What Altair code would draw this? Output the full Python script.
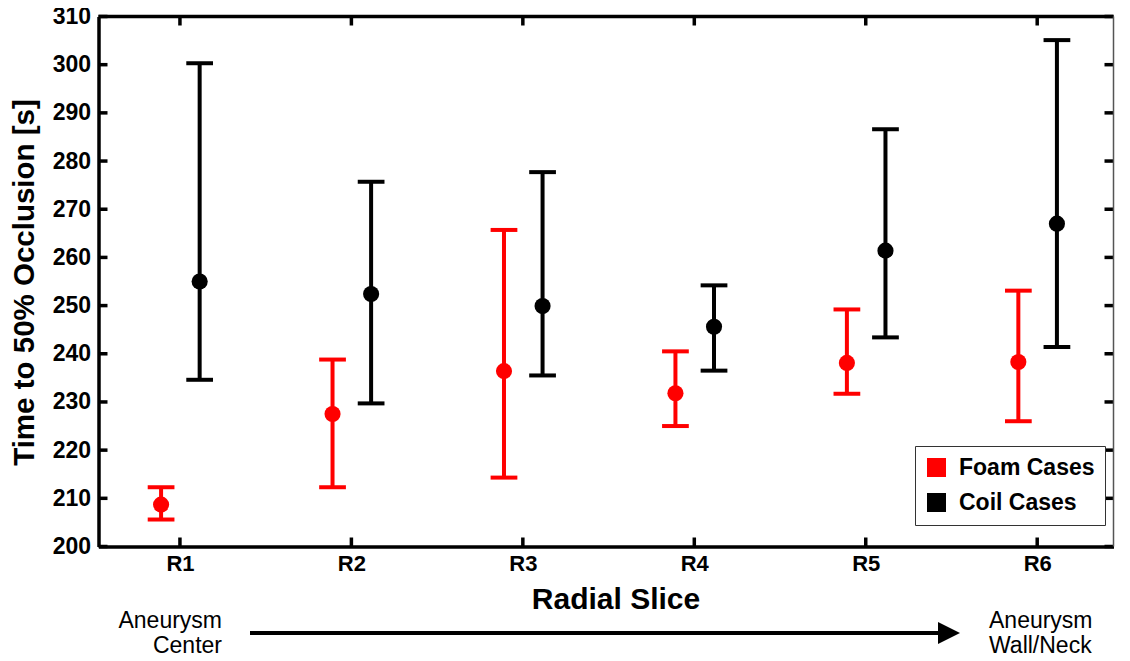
import altair as alt
import pandas as pd

# ---- data ----
slices = ["R1", "R2", "R3", "R4", "R5", "R6"]
positions = [1, 2, 3, 4, 5, 6]
groups = ["Foam Cases", "Coil Cases"]

foam_mean = [208.7, 227.5, 236.4, 231.8, 238.1, 238.3]
foam_low = [205.6, 212.3, 214.3, 225.0, 231.7, 226.0]
foam_high = [212.3, 238.8, 265.7, 240.5, 249.2, 253.1]

coil_mean = [255.0, 252.4, 249.9, 245.6, 261.4, 267.0]
coil_low = [234.6, 229.7, 235.5, 236.5, 243.4, 241.4]
coil_high = [300.3, 275.7, 277.7, 254.2, 286.6, 305.1]

y_ticks = [200, 210, 220, 230, 240, 250, 260, 270, 280, 290, 300, 310]
left_note = ["Aneurysm", "Center"]
right_note = ["Aneurysm", "Wall/Neck"]

# ---- tables ----
rows = []
for i, s in enumerate(slices):
    rows.append(dict(slice=s, pos=positions[i], group=groups[0],
                     mean=foam_mean[i], lo=foam_low[i], hi=foam_high[i]))
    rows.append(dict(slice=s, pos=positions[i], group=groups[1],
                     mean=coil_mean[i], lo=coil_low[i], hi=coil_high[i]))
df = pd.DataFrame(rows)
ytick_df = pd.DataFrame({"v": y_ticks})
xtick_df = pd.DataFrame({"p": positions})
one = pd.DataFrame({"a": [0]})

W, H = 1015, 530
FONT = "Liberation Sans"

xscale = alt.Scale(domain=[0.525, 6.445], nice=False, zero=False)
yscale = alt.Scale(domain=[200, 310], nice=False, zero=False)

x_axis = alt.Axis(values=positions, labelExpr="'R' + datum.value", ticks=False, tickSize=0,
                  grid=False, labelFont=FONT, labelFontSize=22, labelFontWeight="bold",
                  labelColor="black", labelPadding=7, domainWidth=3.5, domainColor="black",
                  title="Radial Slice", titleFont=FONT, titleFontSize=30, titleFontWeight="bold",
                  titleColor="black", titleX=517, titleY=61.5, titleBaseline="alphabetic",
                  titleAlign="center")
y_axis = alt.Axis(values=y_ticks, ticks=False, tickSize=0, grid=False, labelFont=FONT,
                  labelFontSize=23, labelFontWeight="bold", labelColor="black", labelPadding=8,
                  domainWidth=3.5, domainColor="black",
                  title="Time to 50% Occlusion [s]", titleFont=FONT, titleFontSize=29.5,
                  titleFontWeight="bold", titleColor="black", titleAngle=-90, titleX=-65.5,
                  titleY=265.5, titleBaseline="alphabetic", titleAlign="center")


def X(field):
    return alt.X(field, type="quantitative", scale=xscale, axis=x_axis, title="Radial Slice")


def Y(field):
    return alt.Y(field, type="quantitative", scale=yscale, axis=y_axis,
                 title="Time to 50% Occlusion [s]")


color_scale = alt.Scale(domain=groups, range=["#ff0000", "#000000"])
legend = alt.Legend(orient="none", legendX=816.5, legendY=429.5, title=None,
                    symbolType="square", symbolSize=361, labelFont=FONT,
                    labelFontSize=23, labelFontWeight="bold",
                    labelColor="black", padding=10, rowPadding=11,
                    strokeColor="#333333", fillColor="white", labelOffset=11,
                    symbolStrokeWidth=0, cornerRadius=0, labelLimit=300,
                    symbolOpacity=1)
color = alt.Color("group:N", scale=color_scale, legend=legend, title=None)

base = alt.Chart(df).transform_calculate(
    xc="datum.pos + (datum.group == 'Foam Cases' ? -0.11 : 0.115)"
).transform_calculate(
    xl="datum.xc - 0.078", xr="datum.xc + 0.078"
)

stems = base.mark_rule(strokeWidth=4).encode(x=X("xc"), y=Y("lo"), y2="hi", color=color)
caps_hi = base.mark_rule(strokeWidth=4).encode(x=X("xl"), x2="xr", y=Y("hi"), color=color)
caps_lo = base.mark_rule(strokeWidth=4).encode(x=X("xl"), x2="xr", y=Y("lo"), color=color)
points = base.mark_point(filled=True, size=260, opacity=1).encode(
    x=X("xc"), y=Y("mean"), color=color)

# inward ticks (all four sides)
yt_left = alt.Chart(ytick_df).mark_rule(strokeWidth=3.5, color="black").encode(
    y=Y("v"), x=alt.value(0), x2=alt.value(9))
yt_right = alt.Chart(ytick_df).mark_rule(strokeWidth=3.5, color="black").encode(
    y=Y("v"), x=alt.value(W), x2=alt.value(W - 9))
xt_bottom = alt.Chart(xtick_df).mark_rule(strokeWidth=3.5, color="black").encode(
    x=X("p"), y=alt.value(H), y2=alt.value(H - 9))
xt_top = alt.Chart(xtick_df).mark_rule(strokeWidth=3.5, color="black").encode(
    x=X("p"), y=alt.value(0), y2=alt.value(9))

top_border = alt.Chart(one).mark_rule(strokeWidth=3.5, color="black").encode(
    x=alt.value(0), x2=alt.value(W), y=alt.value(0))
right_border = alt.Chart(one).mark_rule(strokeWidth=1.5, color="#555555").encode(
    x=alt.value(W), y=alt.value(0), y2=alt.value(H))


def note(text, x, y, align):
    return alt.Chart(one).mark_text(text=text, font=FONT, fontSize=23, color="black",
                                    align=align, baseline="alphabetic").encode(
        x=alt.value(x), y=alt.value(y))


notes = [
    note(left_note[0], 123.5, 611, "right"),
    note(left_note[1], 123.5, 636, "right"),
    note(right_note[0], 890.5, 611, "left"),
    note(right_note[1], 890.5, 636, "left"),
]

arrow_line = alt.Chart(one).mark_rule(strokeWidth=4, color="black").encode(
    x=alt.value(151.5), x2=alt.value(842), y=alt.value(616.5))
arrow_head = alt.Chart(one).mark_point(shape="M-1,-1L1,0L-1,1Z", filled=True, size=484,
                                       color="black", opacity=1).encode(
    x=alt.value(850.5), y=alt.value(616.5))

chart = alt.layer(
    yt_left, yt_right, xt_bottom, xt_top, top_border, right_border,
    stems, caps_hi, caps_lo, points,
    arrow_line, arrow_head, *notes
).properties(
    width=W, height=H,
    autosize=alt.AutoSizeParams(type="none"),
    padding={"left": 90.5, "top": 8.5, "right": 8, "bottom": 110},
    background="white",
).configure_view(stroke=None)

chart.save("out.html", embed_options={"renderer": "svg", "actions": False})
